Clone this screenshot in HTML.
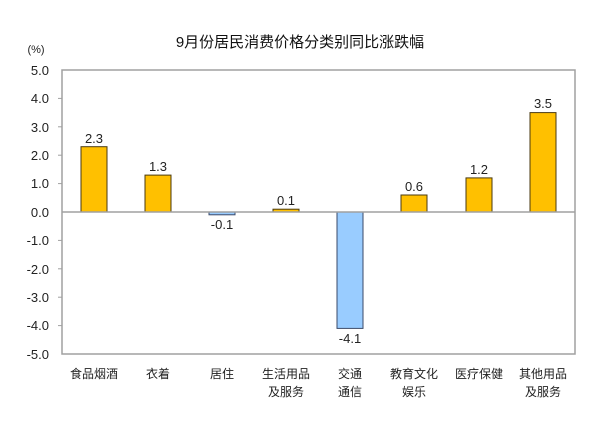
<!DOCTYPE html><html><head><meta charset="utf-8"><style>body{margin:0;background:#fff}</style></head><body>
<svg width="600" height="426" xmlns="http://www.w3.org/2000/svg" font-family="Liberation Sans, Noto Sans CJK SC, sans-serif">
<text x="300" y="47" text-anchor="middle" font-size="15" fill="#111">9月份居民消费价格分类别同比涨跌幅</text>
<text x="36" y="53" text-anchor="middle" font-size="11" fill="#222">(%)</text>
<rect x="62" y="70" width="513" height="284" fill="none" stroke="#a0a0a0" stroke-width="1.5"/>
<g font-size="13" fill="#222" text-anchor="end">
<text x="49" y="75">5.0</text><text x="49" y="103">4.0</text><text x="49" y="132">3.0</text><text x="49" y="160">2.0</text><text x="49" y="188">1.0</text><text x="49" y="217">0.0</text><text x="49" y="245">-1.0</text><text x="49" y="274">-2.0</text><text x="49" y="302">-3.0</text><text x="49" y="330">-4.0</text><text x="49" y="359">-5.0</text>
</g>
<g stroke="#a0a0a0"><line x1="58" y1="98.4" x2="62" y2="98.4"/><line x1="58" y1="126.8" x2="62" y2="126.8"/><line x1="58" y1="155.2" x2="62" y2="155.2"/><line x1="58" y1="183.6" x2="62" y2="183.6"/><line x1="58" y1="240.4" x2="62" y2="240.4"/><line x1="58" y1="268.8" x2="62" y2="268.8"/><line x1="58" y1="297.2" x2="62" y2="297.2"/><line x1="58" y1="325.6" x2="62" y2="325.6"/></g>
<g stroke="#4a3a10" stroke-width="1">
<rect x="81" y="146.7" width="26" height="65.3" fill="#FFC000"/>
<rect x="145" y="175.1" width="26" height="36.9" fill="#FFC000"/>
<rect x="209" y="212" width="26" height="2.8" fill="#99CCFF" stroke="#3a4a6a"/>
<rect x="273" y="209.2" width="26" height="2.8" fill="#FFC000"/>
<rect x="337" y="212" width="26" height="116.4" fill="#99CCFF" stroke="#3a4a6a"/>
<rect x="401" y="195" width="26" height="17" fill="#FFC000"/>
<rect x="466" y="177.9" width="26" height="34.1" fill="#FFC000"/>
<rect x="530" y="112.6" width="26" height="99.4" fill="#FFC000"/>
</g>
<line x1="62" y1="212" x2="575" y2="212" stroke="#a0a0a0" stroke-width="1.5"/>
<g font-size="13" fill="#222" text-anchor="middle">
<text x="94" y="143">2.3</text><text x="158" y="171">1.3</text><text x="222" y="229">-0.1</text><text x="286" y="205">0.1</text><text x="350" y="343">-4.1</text><text x="414" y="191">0.6</text><text x="479" y="174">1.2</text><text x="543" y="108">3.5</text>
</g>
<g font-size="12" fill="#222" text-anchor="middle">
<text x="94" y="378">食品烟酒</text><text x="158" y="378">衣着</text><text x="222" y="378">居住</text>
<text x="286" y="378">生活用品</text><text x="286" y="396">及服务</text>
<text x="350" y="378">交通</text><text x="350" y="396">通信</text>
<text x="414" y="378">教育文化</text><text x="414" y="396">娱乐</text>
<text x="479" y="378">医疗保健</text>
<text x="543" y="378">其他用品</text><text x="543" y="396">及服务</text>
</g>
</svg></body></html>
